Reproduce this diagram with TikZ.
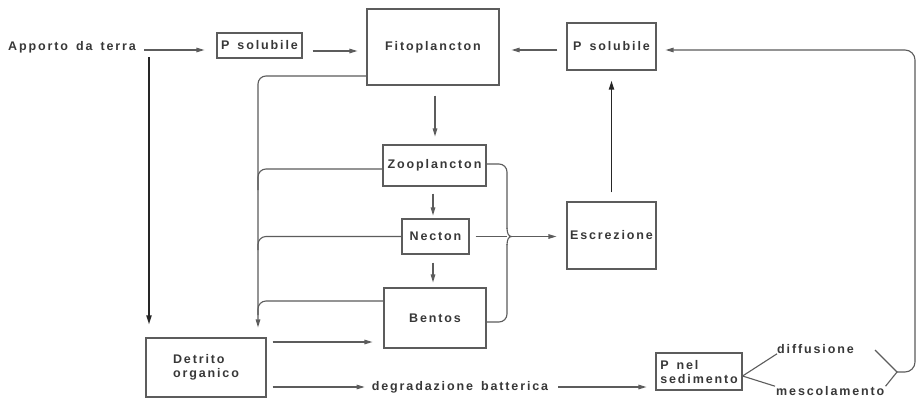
\documentclass[tikz,border=0pt]{standalone}
\usepackage{fontspec}
\newfontfamily\lblfont{Liberation Sans}[UprightFont=* Bold, LetterSpace=15, WordSpace=1.5]
\usetikzlibrary{arrows.meta}
\definecolor{ink}{HTML}{383838}
\definecolor{lin}{HTML}{5C5C5C}
\tikzset{
  txt/.style={font=\lblfont\fontsize{12.5}{14}\selectfont, text=ink, inner sep=0pt},
  box/.style={txt, draw=lin, line width=1.1pt},
  con/.style={draw=lin, line width=1.1pt},
  tip/.style={-{Triangle[length=8pt,width=4.5pt]}},
  arr/.style={con, tip},
  blk/.style={draw=black!85, line width=1.7pt, -{Triangle[length=9pt,width=5pt]}}
}
\begin{document}
\begin{tikzpicture}[x=1pt,y=-1pt]
\fill[white] (0,0) rectangle (917,399);
\useasboundingbox (0,0) rectangle (917,399);

% nodes
\node[txt, anchor=west] (app) at (8,47) {Apporto da terra};
\node[box, minimum width=85pt, minimum height=25pt] (ps1) at (259.5,45.5) {P solubile};
\node[box, minimum width=132pt, minimum height=76pt] (fito) at (433,47) {Fitoplancton};
\node[box, minimum width=89pt, minimum height=47pt] (ps2) at (611.5,46.5) {P solubile};
\node[box, minimum width=103pt, minimum height=41pt] (zoo) at (434.5,165.5) {Zooplancton};
\node[box, minimum width=67pt, minimum height=35pt] (nec) at (435.5,236.5) {Necton};
\node[box, minimum width=102pt, minimum height=60pt] (ben) at (435,318) {Bentos};
\node[box, minimum width=89pt, minimum height=67pt] (esc) at (611.5,235.5) {Escrezione};
\node[box, minimum width=120pt, minimum height=59pt, align=left] (det) at (206,367.5) {Detrito\\organico};
\node[box, minimum width=86pt, minimum height=37pt, align=left, text depth=0pt] (pnel) at (699,371.5) {P nel\\sedimento};
\node[txt] (degr) at (460,387) {degradazione batterica};
\node[txt, anchor=west] (diff) at (777,349) {diffusione};
\node[txt, anchor=west] (mesc) at (776,391) {mescolamento};

\coordinate (av) at (149,57);
\coordinate (jn) at (511.5,236.5);
\coordinate (jr) at (897,372);

% top row
\draw[arr, shorten <=8pt, shorten >=12pt] (app.east |- 0,50) -- (ps1.west |- 0,50);
\draw[arr, shorten <=10pt, shorten >=9pt] (ps1.east |- 0,51) -- (fito.west |- 0,51);
\draw[arr, shorten <=9pt, shorten >=12pt] (ps2.west |- 0,50) -- (fito.east |- 0,50);

% apporto down to detrito
\draw[blk, shorten >=13pt] (av) -- (av |- det.north);

% collector line to detrito
\draw[arr, rounded corners=8pt, shorten >=10pt] (fito.west |- 0,76) -| (det.north -| 258,0);
\draw[con, rounded corners=8pt] (zoo.west |- 0,169) -| (258,190);
\draw[con, rounded corners=8pt] (nec.west) -| (258,250);
\draw[con, rounded corners=8pt] (ben.west |- 0,301) -| (258,315);

% vertical chain
\draw[arr, shorten <=10pt, shorten >=8pt] (fito.south -| 435,0) -- (zoo.north -| 435,0);
\draw[arr, shorten <=7pt, shorten >=3pt] (zoo.south -| 433,0) -- (nec.north -| 433,0);
\draw[arr, shorten <=8pt, shorten >=5pt] (nec.south -| 433,0) -- (ben.north -| 433,0);

% right side of zoo/bentos with brace joint
\draw[con, rounded corners=8pt] (zoo.east |- 0,164) -| (507,229);
\draw[con] (507,228) .. controls (507,234) and (509,236.5) .. (jn) .. controls (509,236.5) and (507,239) .. (507,245);
\draw[con, rounded corners=8pt] (507,244) |- (ben.east |- 0,322);
\draw[con, shorten <=6pt] (nec.east) -- (507,236.5);
\draw[arr, shorten >=10pt] (jn) -- (esc.west |- jn);

% escrezione up
\draw[blk, shorten <=9pt, shorten >=10pt] (esc.north) -- (ps2.south);

% detrito outputs
\draw[arr, shorten <=6pt, shorten >=11pt] (det.east |- 0,342) -- (ben.west |- 0,342);
\draw[arr, shorten <=6pt, shorten >=7pt] (det.east |- degr) -- (degr.west);
\draw[arr, shorten <=10pt, shorten >=9pt] (degr.east) -- (pnel.west |- degr);

% sediment branches
\draw[con] (pnel.east |- 0,376) -- (diff.south west);
\draw[con] (pnel.east |- 0,376) -- ([xshift=-1pt]mesc.north west);
\draw[con] (875,350) -- (jr) -- ([xshift=1pt]mesc.north east);
\draw[arr, rounded corners=10pt, shorten >=9pt] (jr) -- (915,372) -- (915,50) -- (ps2.east |- 0,50);
\end{tikzpicture}
\end{document}
